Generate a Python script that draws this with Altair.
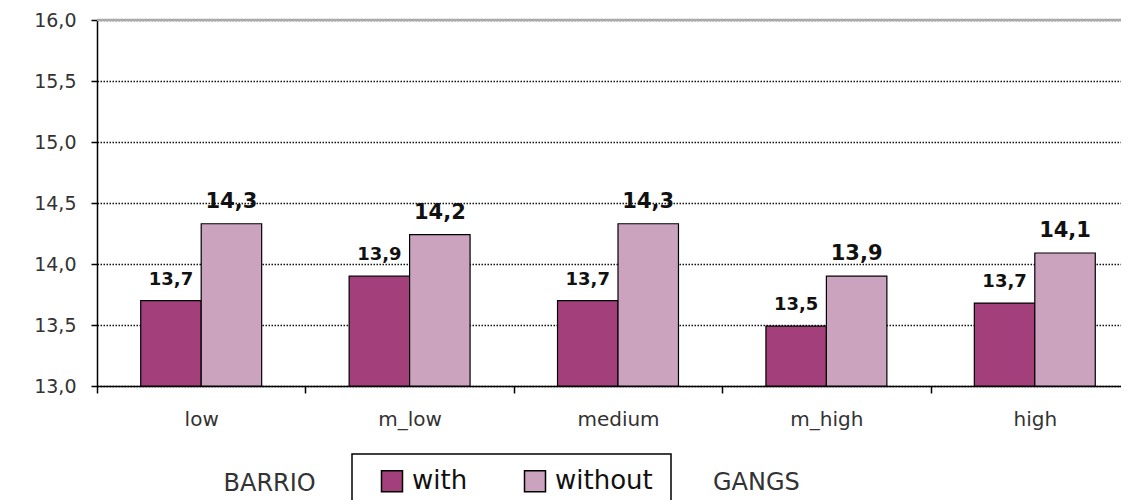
import altair as alt
import pandas as pd

categories = ["low", "m_low", "medium", "m_high", "high"]
series = ["with", "without"]
with_vals = [13.70, 13.90, 13.70, 13.49, 13.68]
without_vals = [14.33, 14.24, 14.33, 13.90, 14.09]
y_ticks = [13.0, 13.5, 14.0, 14.5, 15.0, 15.5, 16.0]
colors = ["#a3407c", "#cba3bf"]
label_sizes = [18, 21]

rows = []
for c, a, b in zip(categories, with_vals, without_vals):
    rows.append({"barrio": c, "gangs": "with", "value": a})
    rows.append({"barrio": c, "gangs": "without", "value": b})
df = pd.DataFrame(rows)

FONT = "DejaVu Sans"

x_enc = alt.X(
    "barrio:N", sort=categories,
    scale=alt.Scale(range=[0, 1042], paddingInner=0, paddingOuter=0),
    axis=alt.Axis(
        title="BARRIO", titleX=126, titleY=97, titleAlign="left", titleBaseline="middle",
        titleAnchor="start", titleFontSize=24, titleFontWeight="normal", titleColor="#333", titleFont=FONT,
        tickBand="extent", tickSize=7, tickColor="black", tickWidth=1.5,
        domainColor="black", domainWidth=1.5, labelAngle=0,
        labelFontSize=20, labelColor="#333", labelFont=FONT, labelPadding=16,
    ),
)
xoff_enc = alt.XOffset("gangs:N", sort=series,
                       scale=alt.Scale(domain=series, paddingOuter=0.723, paddingInner=0))
y_enc = alt.Y(
    "value:Q",
    scale=alt.Scale(domain=[13, 16], nice=False, zero=False),
    axis=alt.Axis(
        title=None, values=y_ticks,
        labelExpr="replace(format(datum.value, '.1f'), '.', ',')",
        grid=True, gridDash=[1.5, 1.5], gridColor="#111", gridWidth=1.4,
        tickSize=6, tickColor="black", tickWidth=1.5,
        domainColor="black", domainWidth=1.5,
        labelFontSize=19, labelColor="#333", labelFont=FONT, labelPadding=15,
    ),
)
color_enc = alt.Color(
    "gangs:N", sort=series,
    scale=alt.Scale(domain=series, range=colors),
    legend=alt.Legend(
        orient="none", legendX=282, legendY=448, direction="horizontal", title=None,
        symbolType="square", symbolSize=441, symbolStrokeColor="black", symbolStrokeWidth=1.5,
        symbolOpacity=1, labelFontSize=26, labelFont=FONT, labelColor="#111",
        labelOffset=7, columnPadding=53, padding=0,
    ),
)

bars = alt.Chart(df).mark_bar(stroke="black", strokeWidth=1.2, opacity=1).encode(
    x=x_enc, xOffset=xoff_enc, y=y_enc, y2=alt.datum(13), color=color_enc
)

label_layers = []
for s, fs in zip(series, label_sizes):
    label_layers.append(
        alt.Chart(df).transform_filter(alt.datum.gangs == s).transform_calculate(
            label="replace(format(datum.value, '.1f'), '.', ',')"
        ).mark_text(fontWeight="bold", font=FONT, color="#111", dy=-16,
                    baseline="alphabetic", fontSize=fs).encode(
            x=alt.X("barrio:N", sort=categories),
            xOffset=alt.XOffset("gangs:N", sort=series),
            y=alt.Y("value:Q"),
            text="label:N",
        )
    )

top_rule = alt.Chart(alt.Data(values=[{}])).mark_rule(color="#a9a9a9", strokeWidth=2.5).encode(
    y=alt.datum(16)
)

legend_box = alt.Chart(alt.Data(values=[{}])).mark_rect(
    fillOpacity=0, stroke="black", strokeWidth=1.5
).encode(x=alt.value(255), x2=alt.value(574), y=alt.value(434), y2=alt.value(530))

gangs = alt.Chart(alt.Data(values=[{"t": "GANGS"}])).mark_text(
    align="left", baseline="middle", fontSize=24, font=FONT, color="#333"
).encode(x=alt.value(616), y=alt.value(463), text="t:N")

chart = alt.layer(top_rule, bars, *label_layers, legend_box, gangs).properties(
    width=1024, height=366,
    autosize=alt.AutoSizeParams(type="none"),
    padding={"left": 89, "top": 12, "right": 0, "bottom": 114},
).configure_view(stroke=None).configure(font=FONT, background="white")

chart.save("out.html", embed_options={"renderer": "svg", "actions": False})
